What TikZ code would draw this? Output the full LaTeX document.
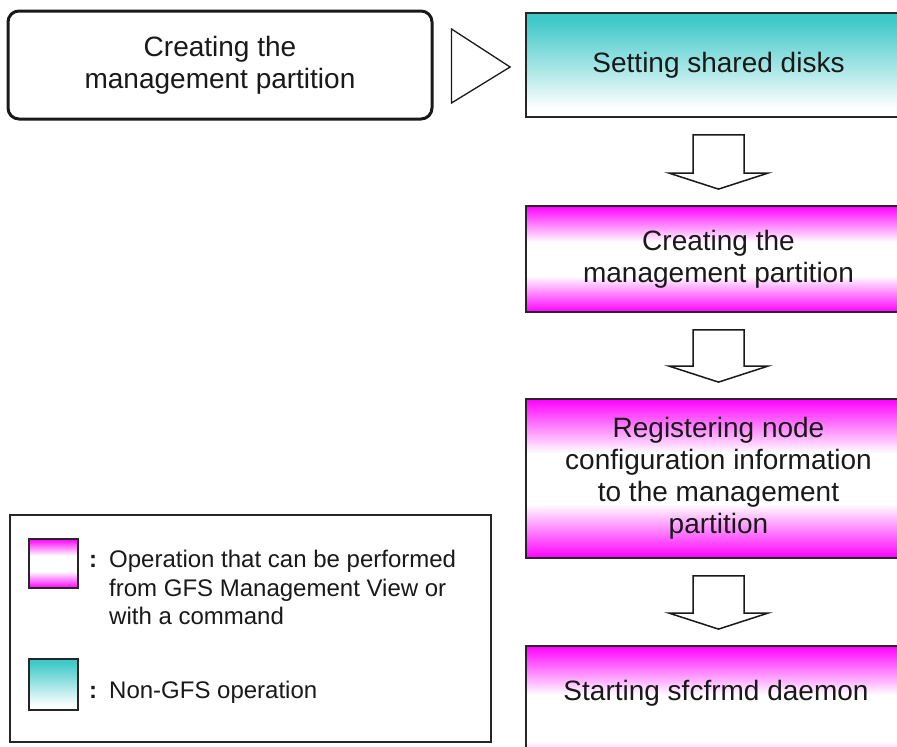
\documentclass[tikz,border=0pt]{standalone}
\usepackage{fontspec}
\setmainfont{Liberation Sans}
\usetikzlibrary{calc}
\definecolor{tealc}{RGB}{62,200,200}
\definecolor{magc}{RGB}{255,0,255}
\pgfdeclareverticalshading{magshade}{100bp}{color(0bp)=(magc); color(25bp)=(magc); color(42bp)=(white); color(58bp)=(white); color(75bp)=(magc); color(100bp)=(magc)}
\pgfdeclareverticalshading{tealshade}{100bp}{color(0bp)=(white); color(29bp)=(white); color(72bp)=(tealc); color(100bp)=(tealc)}
\newcommand\blockarrowdraw[2]{%
  \draw[blockarr] ($(#1.south)+(-25.5,17)$) -- ($(#1.south)+(25.5,17)$)
    -- ($(#2.north)+(25.5,-32)$) -- ($(#2.north)+(49.5,-32)$)
    -- ($(#2.north)+(0,-16)$) -- ($(#2.north)+(-49.5,-32)$)
    -- ($(#2.north)+(-25.5,-32)$) -- cycle;}
\begin{document}
\begin{tikzpicture}[x=1pt,y=-1pt,
  stepbox/.style={draw=black!85, line width=1.8pt, minimum width=385pt, inner sep=0pt,
    align=center, text=black!90, font=\fontsize{28}{32}\selectfont},
  magbox/.style={stepbox, shading=magshade},
  tealbox/.style={stepbox, shading=tealshade},
  startbox/.style={draw=black!90, line width=3pt, rounded corners=11pt, fill=white,
    minimum width=424pt, minimum height=108pt, inner sep=0pt, align=center,
    text=black!90, font=\fontsize{28}{32}\selectfont},
  blockarr/.style={draw=black!90, line width=1.5pt, fill=white, line join=miter},
  tri/.style={draw=black!90, line width=1.3pt, fill=white},
  legendbox/.style={draw=black!85, line width=1.5pt, fill=white, minimum width=481pt,
    minimum height=227pt, inner sep=0pt},
  swatch/.style={draw=black!85, line width=1.8pt, minimum width=49pt, inner sep=0pt},
  legtext/.style={inner sep=0pt, align=left, text=black!90, font=\fontsize{24}{28.5}\selectfont},
  colon/.style={inner sep=0pt, text=black!90, font=\bfseries\fontsize{24}{28.5}\selectfont}]
\useasboundingbox (0,0) rectangle (897,747);
\fill[white] (0,0) rectangle (897,747);
\clip (0,0) rectangle (897,747);

\node[startbox] (start) at (220,65) {Creating the\\management partition};

\node[tealbox, minimum height=104pt] (b1) at (718.5,65) {Setting shared disks};
\node[magbox, minimum height=106pt] (b2) at (718.5,259) {Creating the\\management partition};
\node[magbox, minimum height=159pt] (b3) at (718.5,478.5) {Registering node\\configuration information\\to the management\\partition};
\node[magbox, minimum height=144pt] (b4) at (718.5,718) {};
\node[inner sep=0pt, text=black!90, font=\fontsize{28}{32}\selectfont] (b4t) at (716,693) {Starting sfcfrmd daemon};

\draw[tri] ($(start.east)+(18,-36)$) -- ($(b1.west)+(-15,2)$) -- ($(start.east)+(18,38)$) -- cycle;

\blockarrowdraw{b1}{b2}
\blockarrowdraw{b2}{b3}
\blockarrowdraw{b3}{b4}

\node[legendbox] (legend) at (250.5,628.5) {};
\node[swatch, minimum height=49pt, shading=magshade] (swm) at (53.5,563.5) {};
\node[swatch, minimum height=51pt, shading=tealshade] (swt) at (53.5,684.5) {};
\node[colon, anchor=base] (cm) at (93,567) {:};
\node[colon, anchor=base] (ct) at (93,698) {:};
\node[legtext, anchor=north west] (lm) at (109,550) {Operation that can be performed\\from GFS Management View or\\with a command};
\node[legtext, anchor=base west] (lt) at (109,698) {Non-GFS operation};
\end{tikzpicture}
\end{document}
